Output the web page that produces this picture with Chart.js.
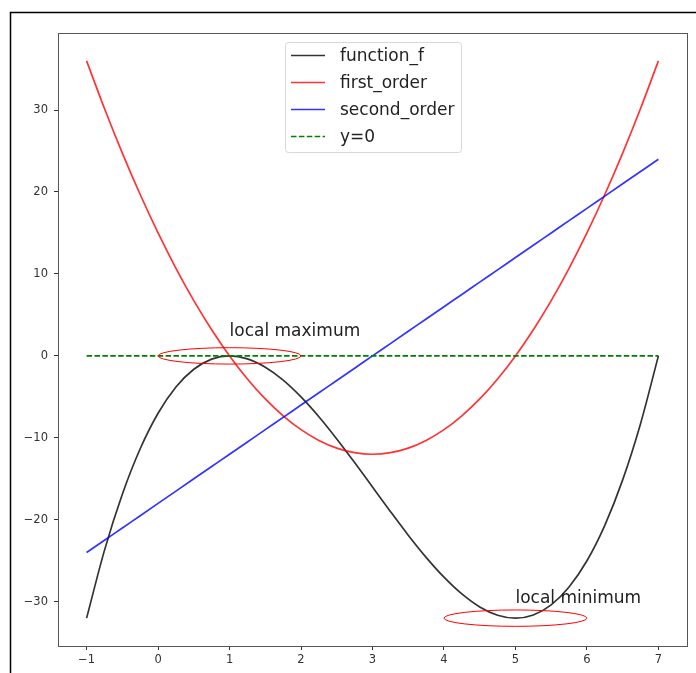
<!DOCTYPE html>
<html>
<head>
<meta charset="utf-8">
<script src="https://cdn.jsdelivr.net/npm/chart.js@4/dist/chart.umd.min.js"></script>
<style>
  html, body { margin: 0; padding: 0; background: #fff; }
  #wrap { position: relative; width: 696px; height: 673px; }
</style>
</head>
<body>
<div id="wrap"><canvas id="chart" width="696" height="673"></canvas></div>
<script>
// values
const xValues = [-1, -0.75, -0.5, -0.25, 0, 0.25, 0.5, 0.75, 1, 1.25, 1.5, 1.75, 2, 2.25, 2.5, 2.75, 3,
  3.25, 3.5, 3.75, 4, 4.25, 4.5, 4.75, 5, 5.25, 5.5, 5.75, 6, 6.25, 6.5, 6.75, 7];
const functionF = [-32, -23.73, -16.88, -11.33, -7, -3.8, -1.63, -0.39, 0, -0.36, -1.38, -2.95, -5,
  -7.42, -10.13, -13.02, -16, -18.98, -21.88, -24.58, -27, -29.05, -30.63, -31.64, -32, -31.61,
  -30.38, -28.2, -25, -20.67, -15.13, -8.27, 0];
const firstOrder = [36, 30.19, 24.75, 19.69, 15, 10.69, 6.75, 3.19, 0, -2.81, -5.25, -7.31, -9,
  -10.31, -11.25, -11.81, -12, -11.81, -11.25, -10.31, -9, -7.31, -5.25, -2.81, 0, 3.19, 6.75,
  10.69, 15, 19.69, 24.75, 30.19, 36];
const secondOrder = [-24, -22.5, -21, -19.5, -18, -16.5, -15, -13.5, -12, -10.5, -9, -7.5, -6,
  -4.5, -3, -1.5, 0, 1.5, 3, 4.5, 6, 7.5, 9, 10.5, 12, 13.5, 15, 16.5, 18, 19.5, 21, 22.5, 24];
const zeroLineX = [-1, 7];
const zeroLineY = [0, 0];

const seriesNames = ['function_f', 'first_order', 'second_order', 'y=0'];
const xTicks = [-1, 0, 1, 2, 3, 4, 5, 6, 7];
const yTicks = [-30, -20, -10, 0, 10, 20, 30];

// annotations: ellipse centres / sizes (data units) and labels
const marks = [
  { name: 'local maximum', cx: 1, cy: 0, w: 2, h: 2, tx: 1, ty: 2.4 },
  { name: 'local minimum', cx: 5, cy: -32, w: 2, h: 2, tx: 5, ty: -30.1 }
];

const colors = ['rgba(0,0,0,0.8)', 'rgba(255,0,0,0.8)', 'rgba(0,0,255,0.8)', 'rgb(0,128,0)'];
const FONT = '"DejaVu Sans", sans-serif';

const toPts = (xs, ys) => xs.map((x, i) => ({ x: x, y: ys[i] }));
const fmt = v => String(v).replace('-', '\u2212');

const framePlugin = {
  id: 'frame',
  beforeDraw(chart) {
    const ctx = chart.ctx;
    ctx.save();
    ctx.fillStyle = '#fff';
    ctx.fillRect(0, 0, chart.width, chart.height);
    ctx.strokeStyle = '#000';
    ctx.lineWidth = 1.5;
    ctx.beginPath();
    ctx.moveTo(10.5, chart.height);
    ctx.lineTo(10.5, 12.5);
    ctx.lineTo(chart.width, 12.5);
    ctx.stroke();
    ctx.restore();
  }
};

const extrasPlugin = {
  id: 'extras',
  afterDatasetsDraw(chart) {
    const ctx = chart.ctx;
    const xs = chart.scales.x, ys = chart.scales.y;
    ctx.save();
    marks.forEach(m => {
      const cx = xs.getPixelForValue(m.cx), cy = ys.getPixelForValue(m.cy);
      const rx = Math.abs(xs.getPixelForValue(m.cx + m.w / 2) - cx);
      const ry = Math.abs(ys.getPixelForValue(m.cy + m.h / 2) - cy);
      ctx.strokeStyle = '#ff0000';
      ctx.lineWidth = 1;
      ctx.beginPath();
      ctx.ellipse(cx, cy, rx, ry, 0, 0, Math.PI * 2);
      ctx.stroke();
      ctx.fillStyle = '#222';
      ctx.font = '17px ' + FONT;
      ctx.textAlign = 'left';
      ctx.textBaseline = 'alphabetic';
      ctx.fillText(m.name, xs.getPixelForValue(m.tx), ys.getPixelForValue(m.ty));
    });

    // legend box
    const a = chart.chartArea;
    const bx = 285, by = 42, bw = 176, bh = 110;
    ctx.fillStyle = 'rgba(255,255,255,0.8)';
    ctx.strokeStyle = '#d8d8d8';
    ctx.lineWidth = 1;
    ctx.beginPath();
    ctx.roundRect(bx + 0.5, by + 0.5, bw, bh, 3);
    ctx.fill();
    ctx.stroke();
    ctx.font = '17px ' + FONT;
    ctx.textBaseline = 'middle';
    seriesNames.forEach((name, i) => {
      const yy = 55.5 + i * 27;
      ctx.strokeStyle = colors[i];
      ctx.lineWidth = 1.7;
      ctx.setLineDash(i === 3 ? [5.5, 2.4] : []);
      ctx.beginPath();
      ctx.moveTo(291, yy);
      ctx.lineTo(325, yy);
      ctx.stroke();
      ctx.setLineDash([]);
      ctx.fillStyle = '#222';
      ctx.fillText(name, 340, yy + 1);
    });

    // axes spines
    ctx.strokeStyle = '#555';
    ctx.lineWidth = 1;
    ctx.strokeRect(Math.round(a.left) + 0.5, Math.round(a.top) + 0.5,
      Math.round(a.right - a.left), Math.round(a.bottom - a.top));
    ctx.restore();
  }
};

const lineDs = (label, data, color, order, dash) => ({
  label: label,
  data: data,
  borderColor: color,
  backgroundColor: color,
  borderWidth: 1.7,
  borderDash: dash || [],
  pointRadius: 0,
  fill: false,
  cubicInterpolationMode: 'monotone',
  order: order
});

new Chart(document.getElementById('chart'), {
  type: 'line',
  data: {
    datasets: [
      lineDs(seriesNames[0], toPts(xValues, functionF), colors[0], 4),
      lineDs(seriesNames[1], toPts(xValues, firstOrder), colors[1], 3),
      lineDs(seriesNames[2], toPts(xValues, secondOrder), colors[2], 2),
      lineDs(seriesNames[3], toPts(zeroLineX, zeroLineY), colors[3], 1, [5.5, 2.4])
    ]
  },
  options: {
    responsive: false,
    animation: false,
    devicePixelRatio: 1,
    layout: { padding: { left: 0, top: 33, right: 9, bottom: 0 } },
    plugins: { legend: { display: false }, tooltip: { enabled: false } },
    scales: {
      x: {
        type: 'linear',
        min: -1.4,
        max: 7.4,
        afterBuildTicks: s => { s.ticks = xTicks.map(v => ({ value: v })); },
        afterFit: s => { s.height = 27; },
        border: { display: false },
        grid: { drawOnChartArea: false, drawTicks: true, tickLength: 4, color: '#333' },
        ticks: { color: '#333', padding: 3, maxRotation: 0, font: { family: FONT, size: 11.5 },
          callback: v => fmt(v) }
      },
      y: {
        type: 'linear',
        min: -35.4,
        max: 39.4,
        afterBuildTicks: s => { s.ticks = yTicks.map(v => ({ value: v })); },
        afterFit: s => { s.width = 58; },
        border: { display: false },
        grid: { drawOnChartArea: false, drawTicks: true, tickLength: 4, color: '#333' },
        ticks: { color: '#333', padding: 6, font: { family: FONT, size: 11.5 },
          callback: v => fmt(v) }
      }
    }
  },
  plugins: [framePlugin, extrasPlugin]
});
</script>
</body>
</html>
